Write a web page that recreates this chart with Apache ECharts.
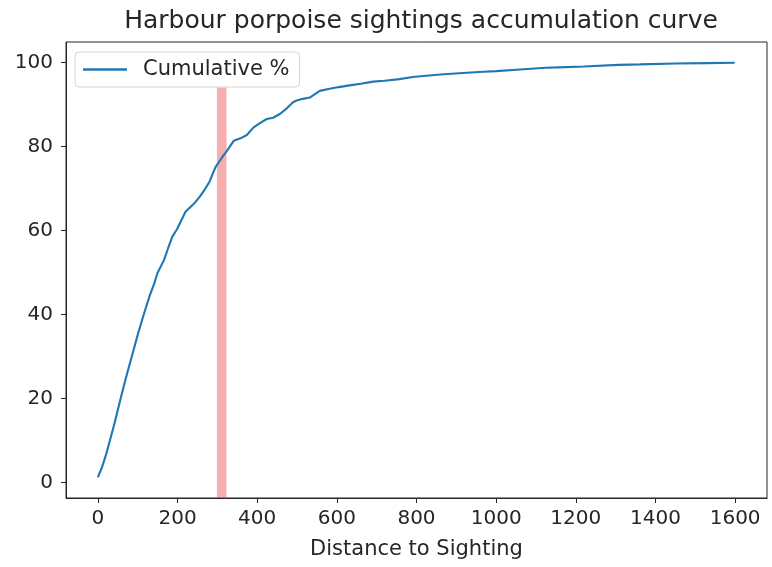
<!DOCTYPE html>
<html>
<head>
<meta charset="utf-8">
<script src="https://cdn.jsdelivr.net/npm/echarts@6/dist/echarts.min.js"></script>
<style>
  html, body { margin: 0; padding: 0; background: #fff; }
  #chart { width: 772px; height: 567px; }
</style>
</head>
<body>
<div id="chart"></div>
<script>
// Distance to sighting (x) and cumulative share of sightings in % (y)
const distance = [0, 10, 20, 30, 42, 57, 70, 85, 100, 115, 130, 141, 150, 166, 178, 187, 199, 220, 241, 255,
  266, 280, 295, 310, 324, 341, 358, 374, 391, 407, 424, 440, 457, 475, 490, 499, 515, 532, 545, 557,
  582, 605, 632, 660, 691, 720, 757, 791, 824, 860, 907, 957, 1000, 1060, 1124, 1157, 1220, 1307, 1360,
  1450, 1530, 1599];
const cumulativePct = [1.3, 3.6, 6.5, 10.0, 14.2, 20.0, 24.8, 30.0, 35.2, 40.0, 44.5, 47.3, 50.0, 53.0, 56.3, 58.6, 60.4, 64.5, 66.4, 68.0,
  69.5, 71.6, 75.1, 77.2, 79.0, 81.4, 82.0, 82.8, 84.6, 85.6, 86.6, 86.9, 87.8, 89.2, 90.6, 91.0, 91.4, 91.7, 92.5, 93.3,
  93.8, 94.2, 94.6, 95.0, 95.5, 95.7, 96.1, 96.6, 96.9, 97.2, 97.5, 97.8, 98.0, 98.4, 98.8, 98.9, 99.1, 99.5, 99.6,
  99.8, 99.9, 100.0];

// Highlighted distance band
const bandRange = [299, 323];

// Tick labels
const xTicks = [0, 200, 400, 600, 800, 1000, 1200, 1400, 1600];
const yTicks = [0, 20, 40, 60, 80, 100];

const points = distance.map((d, i) => [d, cumulativePct[i]]);

// 5% padding around the data range on both axes
const xMin = -80, xMax = 1680;
const yLo = Math.min(...cumulativePct), yHi = Math.max(...cumulativePct);
const yPad = (yHi - yLo) * 0.05;
const yMin = yLo - yPad, yMax = yHi + yPad;
const bandTop = yMin + 0.9 * (yMax - yMin);

const font = 'DejaVu Sans';
const ink = '#262626';
const plain = v => String(v);

const chart = echarts.init(document.getElementById('chart'), null, { renderer: 'canvas' });
chart.setOption({
  animation: false,
  backgroundColor: '#fff',
  title: {
    text: 'Harbour porpoise sightings accumulation curve',
    left: 416, top: 4, textAlign: 'center',
    textStyle: { fontFamily: font, fontSize: 25, fontWeight: 'normal', color: ink }
  },
  grid: {
    left: 66, right: 5, top: 42, bottom: 69,
    show: true, borderColor: ink, borderWidth: 1, backgroundColor: 'transparent'
  },
  legend: {
    data: ['Cumulative %'],
    left: 75, top: 52, z: 10,
    padding: [7, 10, 7, 8],
    icon: 'rect', itemWidth: 44, itemHeight: 2.6,
    backgroundColor: 'rgba(255,255,255,0.85)',
    borderColor: '#d4d4d4', borderWidth: 1, borderRadius: 4,
    textStyle: { fontFamily: font, fontSize: 21, color: ink, padding: [0, 0, 0, 11] }
  },
  xAxis: {
    type: 'value', min: xMin, max: xMax,
    name: 'Distance to Sighting', nameLocation: 'middle', nameGap: 41,
    nameTextStyle: { fontFamily: font, fontSize: 21, color: ink },
    axisLine: { show: true, onZero: false, lineStyle: { color: ink, width: 1 } },
    axisTick: { show: true, inside: false, length: 5, customValues: xTicks, lineStyle: { color: ink } },
    axisLabel: { customValues: xTicks, formatter: plain, margin: 11, fontFamily: font, fontSize: 20, color: ink },
    splitLine: { show: false }
  },
  yAxis: {
    type: 'value', min: yMin, max: yMax,
    axisLine: { show: true, onZero: false, lineStyle: { color: ink, width: 1 } },
    axisTick: { show: true, inside: false, length: 5, customValues: yTicks, lineStyle: { color: ink } },
    axisLabel: { customValues: yTicks, formatter: plain, margin: 13, fontFamily: font, fontSize: 20, color: ink },
    splitLine: { show: false }
  },
  series: [
    {
      name: 'Cumulative %',
      type: 'line',
      data: points,
      z: 2,
      symbol: 'none',
      showSymbol: false,
      lineStyle: { color: '#1f77b4', width: 2.1 },
      itemStyle: { color: '#1f77b4' }
    },
    {
      name: 'band',
      type: 'line',
      data: [],
      z: 3,
      silent: true,
      markArea: {
        silent: true,
        itemStyle: { color: 'rgba(236,62,62,0.42)' },
        data: [[{ xAxis: bandRange[0], yAxis: yMin }, { xAxis: bandRange[1], yAxis: bandTop }]]
      }
    }
  ]
});
</script>
</body>
</html>
